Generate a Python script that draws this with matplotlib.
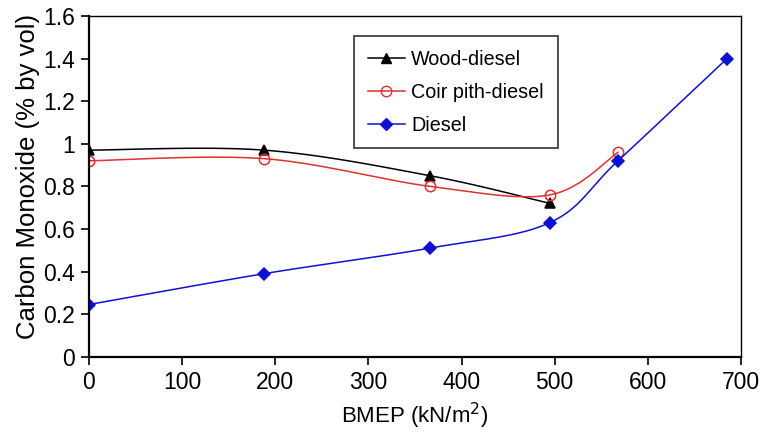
import numpy as np
import matplotlib
matplotlib.use("Agg")
import matplotlib.pyplot as plt

plt.rcParams['font.family'] = ['Liberation Sans', 'DejaVu Sans']

# BMEP (kN/m^2) and CO (% by vol) for each fuel
bmep_wood = [0, 188, 366, 495]
co_wood = [0.97, 0.97, 0.85, 0.72]

bmep_coir = [0, 188, 366, 495, 568]
co_coir = [0.92, 0.93, 0.80, 0.76, 0.96]

bmep_diesel = [0, 188, 366, 495, 568, 685]
co_diesel = [0.245, 0.39, 0.51, 0.63, 0.92, 1.40]

SX, SY = 0.931, 213.0  # rough px per data unit, keeps the curve shape isotropic


def smooth(x, y, n=40):
    # bezier smoothing through the points (tangent = neighbour chord / 6)
    p = np.column_stack([np.asarray(x, float) * SX, np.asarray(y, float) * SY])
    ext = np.vstack([p[0], p, p[-1]])
    t = np.linspace(0, 1, n)[:, None]
    out = []
    for i in range(len(p) - 1):
        p0, p1 = ext[i + 1], ext[i + 2]
        c1 = p0 + (ext[i + 2] - ext[i]) / 6
        c2 = p1 - (ext[i + 3] - ext[i + 1]) / 6
        seg = ((1 - t)**3) * p0 + 3 * ((1 - t)**2) * t * c1 \
            + 3 * (1 - t) * t**2 * c2 + t**3 * p1
        out.append(seg)
    out = np.vstack(out)
    return out[:, 0] / SX, out[:, 1] / SY


fig = plt.figure(figsize=(7.65, 4.44), dpi=100)
ax = fig.add_axes([0.1163, 0.1966, 0.8523, 0.7674])

series = [
    (bmep_wood, co_wood, 'black', '^', 'black', 'Wood-diesel'),
    (bmep_coir, co_coir, '#e03030', 'o', 'none', 'Coir pith-diesel'),
    (bmep_diesel, co_diesel, '#1010d0', 'D', '#1010d0', 'Diesel'),
]
for xs, ys, col, mk, fc, lab in series:
    sx, sy = smooth(xs, ys)
    ms = 6 if mk == 'D' else 7.5
    ax.plot(sx, sy, color=col, lw=1.1)
    ax.plot(xs, ys, linestyle='none', marker=mk, color=col, mfc=fc,
            mec=col, ms=ms, mew=1.1)
    ax.plot([], [], color=col, lw=1.1, marker=mk, mfc=fc, mec=col,
            ms=ms, label=lab)

ax.set_xlim(0, 700)
ax.set_ylim(0, 1.6)
ax.set_xticks(range(0, 701, 100))
ax.set_yticks([0, 0.2, 0.4, 0.6, 0.8, 1, 1.2, 1.4, 1.6])
ax.set_yticklabels(['0', '0.2', '0.4', '0.6', '0.8', '1', '1.2', '1.4', '1.6'])
ax.tick_params(direction='out', length=6, width=1.2, labelsize=16.5, pad=4)
for sp in ax.spines.values():
    sp.set_linewidth(1.0)
ax.spines['bottom'].set_linewidth(1.6)
ax.spines['left'].set_linewidth(1.6)

ax.set_xlabel('BMEP (kN/m$^2$)', fontsize=16, labelpad=5)
ax.set_ylabel('Carbon Monoxide (% by vol)', fontsize=18.5)
ax.yaxis.set_label_coords(-0.075, 0.53)

leg = ax.legend(loc='upper left', bbox_to_anchor=(0.4064, 0.941), fontsize=14.2,
                frameon=True, fancybox=False, edgecolor='black',
                handlelength=1.9, handletextpad=0.3, borderpad=0.7,
                labelspacing=0.7, borderaxespad=0)
leg.get_frame().set_linewidth(1.2)

fig.savefig('out.png', dpi=100)
